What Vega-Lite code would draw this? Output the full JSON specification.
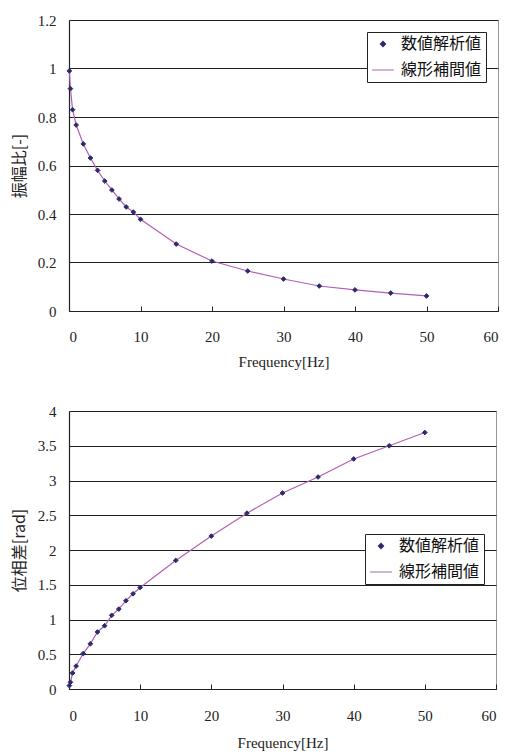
{
  "$schema": "https://vega.github.io/schema/vega-lite/v6.json",
  "padding": {"left": 10, "top": 12, "right": 8, "bottom": 0},
  "background": "white",
  "spacing": 33,
  "config": {
    "view": {"stroke": "#999999", "strokeWidth": 1},
    "axis": {
      "labelFont": "Liberation Serif, Times New Roman, serif", "labelFontSize": 15, "labelColor": "#222",
      "titleFont": "Liberation Serif, Times New Roman, serif", "titleFontSize": 15, "titleFontWeight": "normal", "titleColor": "#222",
      "gridColor": "#222", "gridOpacity": 1, "gridWidth": 1,
      "domainColor": "#222", "domainWidth": 1.2, "tickColor": "#222"
    },
    "legend": {
      "labelFont": "Noto Sans CJK JP", "labelFontSize": 16, "labelColor": "#111",
      "fillColor": "white", "strokeColor": "#222", "padding": 4, "rowPadding": 6,
      "symbolStrokeWidth": 1.5, "labelOffset": 6, "title": null
    }
  },
  "data": {"values": [
    {"f": 0.05, "amp": 0.99, "phase": 0.049},
    {"f": 0.2, "amp": 0.917, "phase": 0.097},
    {"f": 0.5, "amp": 0.83, "phase": 0.23},
    {"f": 1, "amp": 0.767, "phase": 0.33},
    {"f": 2, "amp": 0.689, "phase": 0.51},
    {"f": 3, "amp": 0.631, "phase": 0.65},
    {"f": 4, "amp": 0.58, "phase": 0.82},
    {"f": 5, "amp": 0.536, "phase": 0.91},
    {"f": 6, "amp": 0.499, "phase": 1.06},
    {"f": 7, "amp": 0.462, "phase": 1.15},
    {"f": 8, "amp": 0.429, "phase": 1.27},
    {"f": 9, "amp": 0.408, "phase": 1.37},
    {"f": 10, "amp": 0.378, "phase": 1.46},
    {"f": 15, "amp": 0.276, "phase": 1.85},
    {"f": 20, "amp": 0.206, "phase": 2.2},
    {"f": 25, "amp": 0.165, "phase": 2.53},
    {"f": 30, "amp": 0.132, "phase": 2.82},
    {"f": 35, "amp": 0.103, "phase": 3.05},
    {"f": 40, "amp": 0.087, "phase": 3.31},
    {"f": 45, "amp": 0.074, "phase": 3.5},
    {"f": 50, "amp": 0.062, "phase": 3.69}
  ]},
  "vconcat": [
    {
      "width": 429, "height": 291,
      "encoding": {
        "x": {"field": "f", "type": "quantitative", "title": "Frequency[Hz]",
          "scale": {"domain": [0, 60], "nice": false},
          "axis": {"values": [0,10,20,30,40,50,60], "format": "d", "grid": false, "tickSize": -5, "labelPadding": 23, "titlePadding": 10}},
        "y": {"field": "amp", "type": "quantitative", "title": "振幅比[-]",
          "scale": {"domain": [0, 1.2], "nice": false},
          "axis": {"values": [0,0.2,0.4,0.6,0.8,1,1.2], "format": "~g", "ticks": false, "labelPadding": 13,
            "titleFont": "Noto Sans CJK JP", "titleFontSize": 16, "titlePadding": 10}}
      },
      "layer": [
        {
          "mark": {"type": "line", "color": "#b35fb3", "strokeWidth": 1.2}
        },
        {
          "mark": {"type": "point", "filled": false, "fill": "#2b2b6b", "fillOpacity": 1, "opacity": 1, "strokeWidth": 1},
          "encoding": {
            "color": {"datum": "数値解析値", "scale": {"domain": ["数値解析値", "線形補間値"], "range": ["#2b2b6b", "#c79ac7"]},
              "legend": {"orient": "top-right", "offset": 12}},
            "shape": {"datum": "数値解析値", "scale": {"domain": ["数値解析値", "線形補間値"], "range": ["diamond", "stroke"]},
              "legend": {"orient": "top-right", "offset": 12}},
            "size": {"datum": "数値解析値", "scale": {"type": "ordinal", "domain": ["数値解析値", "線形補間値"], "range": [22, 480]},
              "legend": {"orient": "top-right", "offset": 12}}
          }
        }
      ]
    },
    {
      "width": 427, "height": 278,
      "encoding": {
        "x": {"field": "f", "type": "quantitative", "title": "Frequency[Hz]",
          "scale": {"domain": [0, 60], "nice": false},
          "axis": {"values": [0,10,20,30,40,50,60], "format": "d", "grid": false, "tickSize": -5, "labelPadding": 24, "titlePadding": 12}},
        "y": {"field": "phase", "type": "quantitative", "title": "位相差[rad]",
          "scale": {"domain": [0, 4], "nice": false},
          "axis": {"values": [0,0.5,1,1.5,2,2.5,3,3.5,4], "format": "~g", "ticks": false, "labelPadding": 13,
            "titleFont": "Noto Sans CJK JP", "titleFontSize": 16, "titlePadding": 10}}
      },
      "layer": [
        {
          "mark": {"type": "line", "color": "#b35fb3", "strokeWidth": 1.2}
        },
        {
          "mark": {"type": "point", "filled": false, "fill": "#2b2b6b", "fillOpacity": 1, "opacity": 1, "strokeWidth": 1},
          "encoding": {
            "color": {"datum": "数値解析値", "scale": {"domain": ["数値解析値", "線形補間値"], "range": ["#2b2b6b", "#c79ac7"]},
              "legend": {"orient": "none", "legendX": 296, "legendY": 123}},
            "shape": {"datum": "数値解析値", "scale": {"domain": ["数値解析値", "線形補間値"], "range": ["diamond", "stroke"]},
              "legend": {"orient": "none", "legendX": 296, "legendY": 123}},
            "size": {"datum": "数値解析値", "scale": {"type": "ordinal", "domain": ["数値解析値", "線形補間値"], "range": [22, 480]},
              "legend": {"orient": "none", "legendX": 296, "legendY": 123}}
          }
        }
      ]
    }
  ],
  "resolve": {"scale": {"color": "independent", "shape": "independent", "size": "independent"}}
}
